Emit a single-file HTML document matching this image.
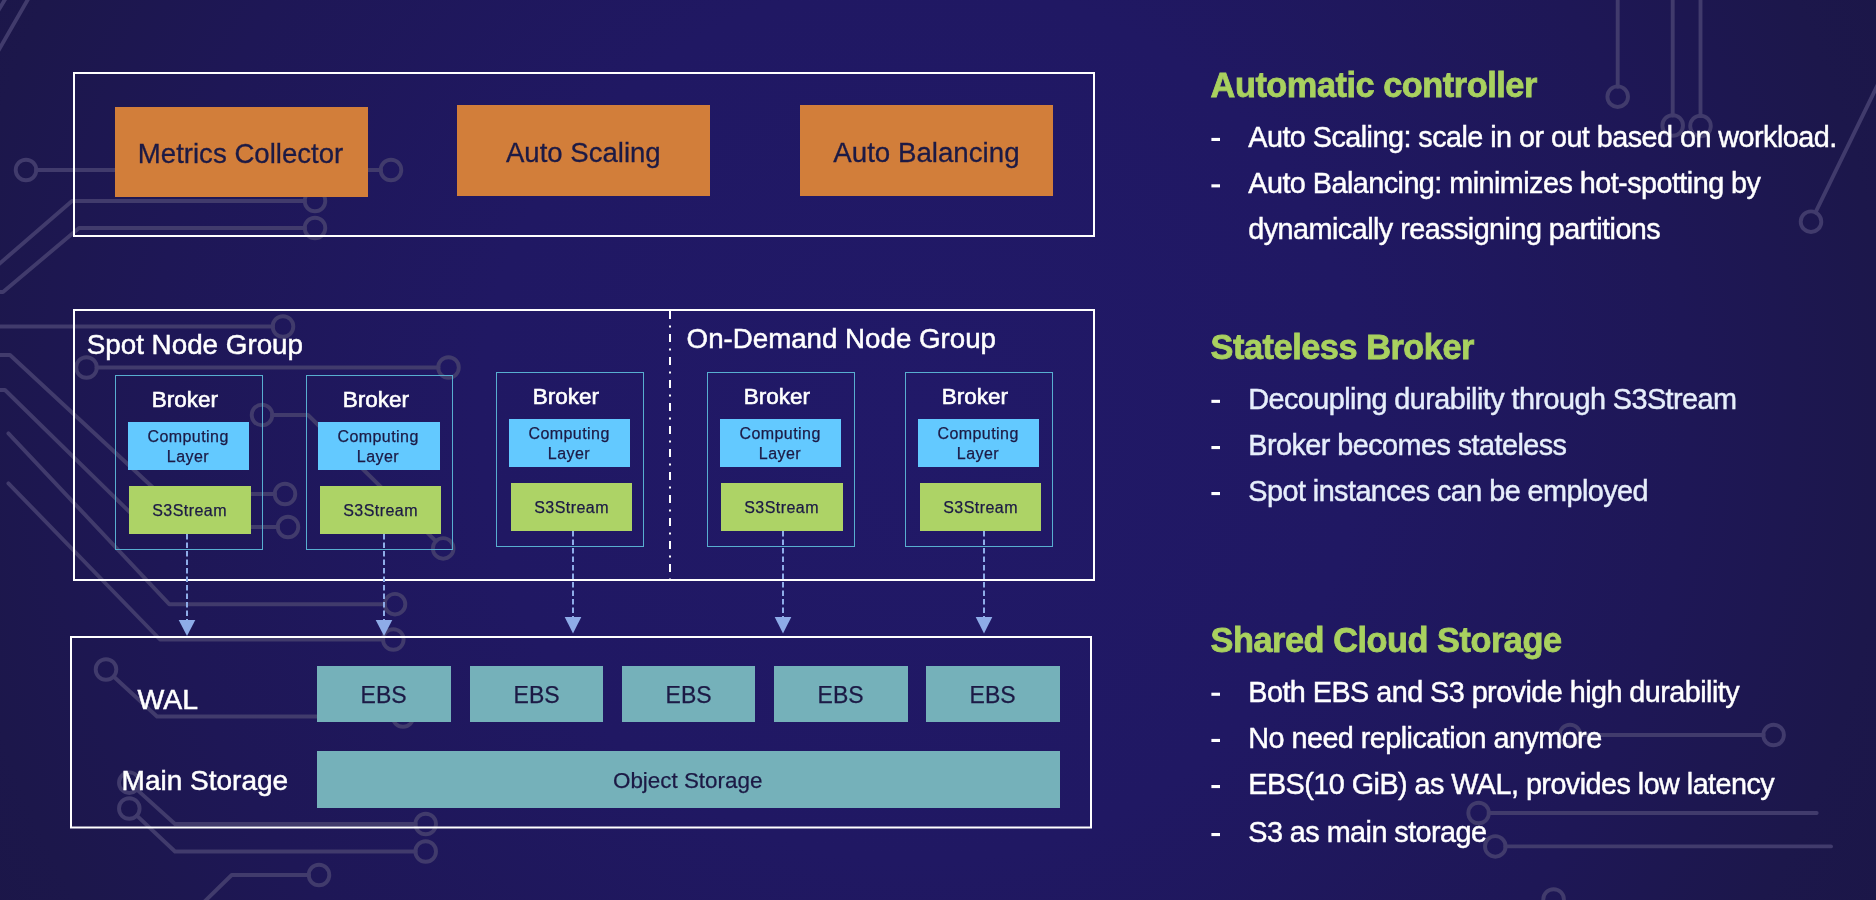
<!DOCTYPE html>
<html><head><meta charset="utf-8">
<style>
html,body{margin:0;padding:0;width:1876px;height:900px;overflow:hidden;background:#1e1758}
svg{display:block;will-change:transform}
text{font-family:"Liberation Sans",sans-serif}
.ck{stroke:#413b6c;stroke-width:3.9;fill:none;stroke-linecap:round;stroke-linejoin:round}
</style></head><body>
<svg width="1876" height="900" viewBox="0 0 1876 900">
<defs>
<radialGradient id="bg" cx="920" cy="420" r="1100" gradientUnits="userSpaceOnUse">
<stop offset="0" stop-color="#211968"/>
<stop offset="0.4" stop-color="#201863"/>
<stop offset="0.7" stop-color="#1e1756"/>
<stop offset="0.88" stop-color="#1c174b"/>
<stop offset="1" stop-color="#1b1647"/>
</radialGradient>
</defs>
<rect x="0" y="0" width="1876" height="900" fill="url(#bg)"/>
<g class="ck">
<path d="M31,-6 L-3,53"/>
<path d="M6.5,-3 L-2.5,12"/>
<circle cx="26" cy="170" r="10.3"/>
<circle cx="391" cy="170" r="10.3"/>
<path d="M36,170 L381,170"/>
<circle cx="315" cy="201" r="10.3"/>
<path d="M-2,265 L72,201 L305,201"/>
<circle cx="315" cy="228" r="10.3"/>
<path d="M-2,292 L3,292 L79,228 L305,228"/>
<circle cx="283" cy="326.5" r="10.3"/>
<path d="M-2,326.5 L273,326.5"/>
<circle cx="86.5" cy="367.5" r="10.3"/>
<circle cx="448.5" cy="367.5" r="10.3"/>
<path d="M96.5,367.5 L438.5,367.5"/>
<path d="M-2,355 L10,355 L175,508"/>
<path d="M-2,390 L5,390 L150,532"/>
<path d="M8.4,433.3 L169.2,604.2 L385,604.2"/>
<circle cx="395" cy="604.2" r="10.3"/>
<path d="M8.4,483.3 L160,639.5 L383.3,639.5"/>
<circle cx="393.3" cy="639.5" r="10.3"/>
<circle cx="262" cy="415" r="10.3"/>
<circle cx="443.2" cy="548.4" r="10.3"/>
<path d="M272,415 L308,415 L435.87,541.17"/>
<circle cx="285" cy="494" r="10.3"/>
<path d="M245,494 L275,494"/>
<circle cx="288" cy="527" r="10.3"/>
<path d="M245,527 L278,527"/>
<circle cx="106" cy="669.5" r="10.3"/>
<circle cx="403" cy="716.5" r="10.3"/>
<path d="M113.57,676.48 L157,716.5 L393,716.5"/>
<circle cx="129.3" cy="782.7" r="10.3"/>
<circle cx="425.7" cy="824" r="10.3"/>
<path d="M136.94,789.61 L175,824 L415.7,824"/>
<circle cx="129.3" cy="808.5" r="10.3"/>
<circle cx="425.7" cy="851.5" r="10.3"/>
<path d="M136.8,815.56 L175,851.5 L415.7,851.5"/>
<circle cx="319" cy="875" r="10.3"/>
<path d="M203,903 L231.7,875 L309,875"/>
<circle cx="1617.7" cy="96.7" r="10.3"/>
<path d="M1617.7,-2 L1617.7,86.7"/>
<circle cx="1672.7" cy="125.5" r="10.3"/>
<path d="M1672.7,-2 L1672.7,115.5"/>
<circle cx="1700.5" cy="126" r="10.3"/>
<path d="M1700.5,-2 L1700.5,116"/>
<circle cx="1811" cy="221.7" r="10.3"/>
<path d="M1815.51,212.44 L1880,80"/>
<circle cx="1570" cy="735" r="10.3"/>
<circle cx="1773.6" cy="735" r="10.3"/>
<path d="M1580,735 L1763.6,735"/>
<circle cx="1478.6" cy="813" r="10.3"/>
<path d="M1488.6,813 L1816.7,813"/>
<circle cx="1495.3" cy="846.4" r="10.3"/>
<path d="M1505.3,846.4 L1831,846.4"/>
<circle cx="1553.6" cy="899.5" r="10.3"/>
</g>
<rect x="74.0" y="73.0" width="1020" height="163" fill="none" stroke="#fff" stroke-width="2"/>
<rect x="115" y="107" width="253" height="90" fill="#d27e3a"/>
<rect x="457" y="105" width="253" height="91" fill="#d27e3a"/>
<rect x="800" y="105" width="253" height="91" fill="#d27e3a"/>
<text x="137.8" y="163" font-size="27.6" fill="#1c1a45" stroke="#1c1a45" stroke-width="0.3">Metrics Collector</text>
<text x="506" y="162" font-size="27.55" fill="#1c1a45" stroke="#1c1a45" stroke-width="0.3">Auto Scaling</text>
<text x="833.3" y="162.3" font-size="27.7" fill="#1c1a45" stroke="#1c1a45" stroke-width="0.3">Auto Balancing</text>
<rect x="74.0" y="310.0" width="1020" height="270" fill="none" stroke="#fff" stroke-width="2"/>
<line x1="670" y1="311" x2="670" y2="579" stroke="#fff" stroke-width="2" stroke-dasharray="8 6.5 2 6.5"/>
<text x="86.7" y="354.3" font-size="27.8" fill="#fff" stroke="#fff" stroke-width="0.5">Spot Node Group</text>
<text x="686.6" y="347.8" font-size="27.7" fill="#fff" stroke="#fff" stroke-width="0.5">On-Demand Node Group</text>
<rect x="115.5" y="375.5" width="147" height="174" fill="none" stroke="#58aed0" stroke-width="1"/>
<rect x="128" y="422" width="121" height="48" fill="#63c9ff"/>
<rect x="129" y="486" width="122" height="48" fill="#add366"/>
<text x="151.7" y="406.8" font-size="22.5" fill="#fff" stroke="#fff" stroke-width="0.6">Broker</text>
<text x="147.4" y="442.1" font-size="16" fill="#1c1a45" letter-spacing="0.45" stroke="#1c1a45" stroke-width="0.25">Computing</text>
<text x="166.8" y="461.9" font-size="16" fill="#1c1a45" letter-spacing="0.45" stroke="#1c1a45" stroke-width="0.25">Layer</text>
<text x="152.2" y="515.8" font-size="16" fill="#1c1a45" letter-spacing="0.45" stroke="#1c1a45" stroke-width="0.25">S3Stream</text>
<line x1="187" y1="534" x2="187" y2="620" stroke="#8eace8" stroke-width="2" stroke-dasharray="5.5 3"/>
<path d="M178.7,620 L195.3,620 L187,636 Z" fill="#8eace8"/>
<rect x="306.5" y="375.5" width="146" height="174" fill="none" stroke="#58aed0" stroke-width="1"/>
<rect x="318" y="422" width="122" height="48" fill="#63c9ff"/>
<rect x="320" y="486" width="121" height="48" fill="#add366"/>
<text x="342.7" y="406.8" font-size="22.5" fill="#fff" stroke="#fff" stroke-width="0.6">Broker</text>
<text x="337.4" y="442.1" font-size="16" fill="#1c1a45" letter-spacing="0.45" stroke="#1c1a45" stroke-width="0.25">Computing</text>
<text x="356.8" y="461.9" font-size="16" fill="#1c1a45" letter-spacing="0.45" stroke="#1c1a45" stroke-width="0.25">Layer</text>
<text x="343.2" y="515.8" font-size="16" fill="#1c1a45" letter-spacing="0.45" stroke="#1c1a45" stroke-width="0.25">S3Stream</text>
<line x1="384" y1="534" x2="384" y2="620" stroke="#8eace8" stroke-width="2" stroke-dasharray="5.5 3"/>
<path d="M375.7,620 L392.3,620 L384,636 Z" fill="#8eace8"/>
<rect x="496.5" y="372.5" width="147" height="174" fill="none" stroke="#58aed0" stroke-width="1"/>
<rect x="509" y="419" width="121" height="48" fill="#63c9ff"/>
<rect x="511" y="483" width="121" height="48" fill="#add366"/>
<text x="532.7" y="403.8" font-size="22.5" fill="#fff" stroke="#fff" stroke-width="0.6">Broker</text>
<text x="528.4" y="439.1" font-size="16" fill="#1c1a45" letter-spacing="0.45" stroke="#1c1a45" stroke-width="0.25">Computing</text>
<text x="547.8" y="458.9" font-size="16" fill="#1c1a45" letter-spacing="0.45" stroke="#1c1a45" stroke-width="0.25">Layer</text>
<text x="534.2" y="512.8" font-size="16" fill="#1c1a45" letter-spacing="0.45" stroke="#1c1a45" stroke-width="0.25">S3Stream</text>
<line x1="573" y1="531" x2="573" y2="617" stroke="#8eace8" stroke-width="2" stroke-dasharray="5.5 3"/>
<path d="M564.7,617 L581.3,617 L573,633.5 Z" fill="#8eace8"/>
<rect x="707.5" y="372.5" width="147" height="174" fill="none" stroke="#58aed0" stroke-width="1"/>
<rect x="720" y="419" width="121" height="48" fill="#63c9ff"/>
<rect x="721" y="483" width="122" height="48" fill="#add366"/>
<text x="743.7" y="403.8" font-size="22.5" fill="#fff" stroke="#fff" stroke-width="0.6">Broker</text>
<text x="739.4" y="439.1" font-size="16" fill="#1c1a45" letter-spacing="0.45" stroke="#1c1a45" stroke-width="0.25">Computing</text>
<text x="758.8" y="458.9" font-size="16" fill="#1c1a45" letter-spacing="0.45" stroke="#1c1a45" stroke-width="0.25">Layer</text>
<text x="744.2" y="512.8" font-size="16" fill="#1c1a45" letter-spacing="0.45" stroke="#1c1a45" stroke-width="0.25">S3Stream</text>
<line x1="783" y1="531" x2="783" y2="617" stroke="#8eace8" stroke-width="2" stroke-dasharray="5.5 3"/>
<path d="M774.7,617 L791.3,617 L783,633.5 Z" fill="#8eace8"/>
<rect x="905.5" y="372.5" width="147" height="174" fill="none" stroke="#58aed0" stroke-width="1"/>
<rect x="918" y="419" width="121" height="48" fill="#63c9ff"/>
<rect x="920" y="483" width="121" height="48" fill="#add366"/>
<text x="941.7" y="403.8" font-size="22.5" fill="#fff" stroke="#fff" stroke-width="0.6">Broker</text>
<text x="937.4" y="439.1" font-size="16" fill="#1c1a45" letter-spacing="0.45" stroke="#1c1a45" stroke-width="0.25">Computing</text>
<text x="956.8" y="458.9" font-size="16" fill="#1c1a45" letter-spacing="0.45" stroke="#1c1a45" stroke-width="0.25">Layer</text>
<text x="943.2" y="512.8" font-size="16" fill="#1c1a45" letter-spacing="0.45" stroke="#1c1a45" stroke-width="0.25">S3Stream</text>
<line x1="984" y1="531" x2="984" y2="617" stroke="#8eace8" stroke-width="2" stroke-dasharray="5.5 3"/>
<path d="M975.7,617 L992.3,617 L984,633.5 Z" fill="#8eace8"/>
<rect x="71.0" y="637.0" width="1020" height="190.5" fill="none" stroke="#fff" stroke-width="2"/>
<text x="137.5" y="709" font-size="28.4" fill="#fff" stroke="#fff" stroke-width="0.5">WAL</text>
<text x="121.6" y="790.1" font-size="28.0" fill="#fff" stroke="#fff" stroke-width="0.5">Main Storage</text>
<rect x="317" y="666" width="134" height="56" fill="#75b1ba"/>
<text x="360.6" y="702.8" font-size="23" fill="#1c1a45" stroke="#1c1a45" stroke-width="0.25">EBS</text>
<rect x="470" y="666" width="133" height="56" fill="#75b1ba"/>
<text x="513.6" y="702.8" font-size="23" fill="#1c1a45" stroke="#1c1a45" stroke-width="0.25">EBS</text>
<rect x="622" y="666" width="133" height="56" fill="#75b1ba"/>
<text x="665.6" y="702.8" font-size="23" fill="#1c1a45" stroke="#1c1a45" stroke-width="0.25">EBS</text>
<rect x="774" y="666" width="134" height="56" fill="#75b1ba"/>
<text x="817.6" y="702.8" font-size="23" fill="#1c1a45" stroke="#1c1a45" stroke-width="0.25">EBS</text>
<rect x="926" y="666" width="134" height="56" fill="#75b1ba"/>
<text x="969.6" y="702.8" font-size="23" fill="#1c1a45" stroke="#1c1a45" stroke-width="0.25">EBS</text>
<rect x="317" y="751" width="743" height="57" fill="#75b1ba"/>
<text x="613" y="788" font-size="22.4" fill="#1c1a45" stroke="#1c1a45" stroke-width="0.25">Object Storage</text>
<text x="1210.6" y="96.8" font-size="34.3" fill="#a9d15f" letter-spacing="-0.46" stroke="#a9d15f" stroke-width="0.8" font-weight="700">Automatic controller</text>
<rect x="1211.4" y="137.9" width="8.6" height="3.1" fill="#ffffff"/>
<text x="1248.3" y="146.8" font-size="28.8" fill="#ffffff" letter-spacing="-0.55" stroke="#ffffff" stroke-width="0.45">Auto Scaling: scale in or out based on workload.</text>
<rect x="1211.4" y="184.3" width="8.6" height="3.1" fill="#ffffff"/>
<text x="1248.3" y="193.2" font-size="28.8" fill="#ffffff" letter-spacing="-0.55" stroke="#ffffff" stroke-width="0.45">Auto Balancing: minimizes hot-spotting by</text>
<text x="1248.3" y="238.8" font-size="28.8" fill="#ffffff" letter-spacing="-0.55" stroke="#ffffff" stroke-width="0.45">dynamically reassigning partitions</text>
<text x="1210.6" y="358.8" font-size="34.3" fill="#a9d15f" letter-spacing="-0.46" stroke="#a9d15f" stroke-width="0.8" font-weight="700">Stateless Broker</text>
<rect x="1211.4" y="399.8" width="8.6" height="3.1" fill="#ffffff"/>
<text x="1248.3" y="408.7" font-size="28.8" fill="#e6eefb" letter-spacing="-0.55" stroke="#e6eefb" stroke-width="0.45">Decoupling durability through S3Stream</text>
<rect x="1211.4" y="446.0" width="8.6" height="3.1" fill="#ffffff"/>
<text x="1248.3" y="454.9" font-size="28.8" fill="#e6eefb" letter-spacing="-0.55" stroke="#e6eefb" stroke-width="0.45">Broker becomes stateless</text>
<rect x="1211.4" y="492.0" width="8.6" height="3.1" fill="#ffffff"/>
<text x="1248.3" y="500.9" font-size="28.8" fill="#e6eefb" letter-spacing="-0.55" stroke="#e6eefb" stroke-width="0.45">Spot instances can be employed</text>
<text x="1210.6" y="651.6" font-size="34.3" fill="#a9d15f" letter-spacing="-0.46" stroke="#a9d15f" stroke-width="0.8" font-weight="700">Shared Cloud Storage</text>
<rect x="1211.4" y="692.7" width="8.6" height="3.1" fill="#ffffff"/>
<text x="1248.3" y="701.6" font-size="28.8" fill="#ffffff" letter-spacing="-0.55" stroke="#ffffff" stroke-width="0.45">Both EBS and S3 provide high durability</text>
<rect x="1211.4" y="738.9" width="8.6" height="3.1" fill="#ffffff"/>
<text x="1248.3" y="747.8" font-size="28.8" fill="#ffffff" letter-spacing="-0.55" stroke="#ffffff" stroke-width="0.45">No need replication anymore</text>
<rect x="1211.4" y="785.0" width="8.6" height="3.1" fill="#ffffff"/>
<text x="1248.3" y="793.9" font-size="28.8" fill="#ffffff" letter-spacing="-0.55" stroke="#ffffff" stroke-width="0.45">EBS(10 GiB) as WAL, provides low latency</text>
<rect x="1211.4" y="833.0" width="8.6" height="3.1" fill="#ffffff"/>
<text x="1248.3" y="841.9" font-size="28.8" fill="#ffffff" letter-spacing="-0.55" stroke="#ffffff" stroke-width="0.45">S3 as main storage</text>
</svg>
</body></html>
